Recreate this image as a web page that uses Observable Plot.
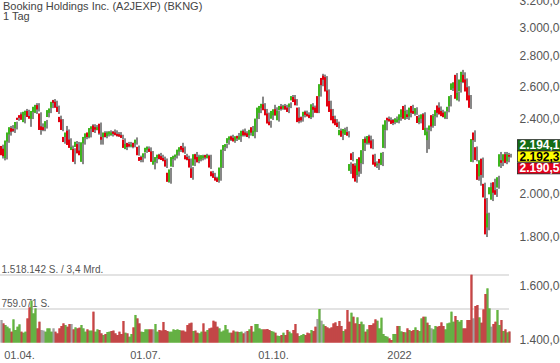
<!DOCTYPE html>
<html><head><meta charset="utf-8">
<script src="https://cdn.jsdelivr.net/npm/d3@7"></script>
<script src="https://cdn.jsdelivr.net/npm/@observablehq/plot@0.6"></script>
<style>
html,body{margin:0;padding:0;background:#fff;overflow:hidden}
#wrap{position:relative;width:560px;height:363px;font-family:"Liberation Sans",Arial,sans-serif}
#wrap svg{position:absolute;left:0;top:0}
#title{position:absolute;left:3px;top:1px;font-size:11px;line-height:10px;color:#444;z-index:5;white-space:nowrap}
</style></head><body>
<div id="wrap"><div id="title">Booking Holdings Inc. (A2JEXP) (BKNG)<br>1 Tag</div></div>
<script>
const opens = [
2245,2230,2185,2275,2315,2345,2340,2350,2405,2420,
2425,2385,2425,2445,2415,2405,2445,2440,2480,2430,
2355,2350,2355,2415,2440,2470,2510,2500,2470,2410,
2395,2295,2300,2330,2280,2228,2228,2245,2255,2220,
2165,2265,2295,2320,2300,2345,2360,2350,2340,2370,
2295,2300,2318,2305,2315,2310,2325,2320,2312,2310,
2305,2280,2235,2262,2255,2248,2262,2265,2240,2185,
2185,2190,2215,2230,2230,2215,2150,2165,2185,2198,
2190,2180,2170,2103,2062,2140,2180,2190,2200,2220,
2245,2235,2195,2185,2175,2125,2145,2200,2185,2170,
2178,2185,2195,2185,2192,2110,2100,2080,2075,2070,
2135,2228,2245,2265,2285,2298,2290,2280,2300,2285,
2305,2328,2320,2315,2310,2350,2305,2330,2405,2440,
2470,2485,2455,2430,2382,2405,2425,2455,2396,2455,
2472,2465,2475,2465,2475,2515,2530,2515,2465,2405,
2408,2420,2440,2428,2422,2415,2470,2465,2535,2540,
2650,2665,2655,2570,2505,2455,2415,2396,2376,2310,
2330,2320,2312,2322,2118,2205,2150,2140,2097,2183,
2158,2228,2285,2265,2298,2275,2198,2157,2147,2175,
2150,2240,2340,2405,2398,2390,2392,2385,2385,2396,
2415,2475,2405,2425,2418,2475,2445,2435,2415,2385,
2405,2425,2310,2283,2340,2420,2365,2420,2478,2465,
2445,2435,2410,2450,2480,2580,2590,2670,2515,2570,
2630,2670,2640,2590,2540,2165,2320,2238,2148,2090,
2175,2047,1974,1845,2000,1974,2055,2015,2033,2140,
2168,2168,2200,2168,2196];
const highs = [
2255,2250,2290,2330,2360,2365,2355,2385,2410,2440,
2435,2450,2460,2455,2425,2450,2485,2495,2495,2440,
2375,2360,2395,2460,2470,2515,2520,2510,2480,2420,
2400,2300,2360,2340,2290,2250,2235,2275,2270,2225,
2270,2300,2320,2330,2355,2370,2370,2365,2355,2380,
2300,2330,2330,2330,2335,2330,2340,2335,2325,2325,
2310,2290,2260,2270,2270,2265,2275,2295,2250,2195,
2195,2210,2245,2245,2240,2220,2170,2195,2205,2210,
2200,2190,2180,2110,2130,2195,2200,2205,2235,2245,
2265,2245,2205,2195,2180,2135,2205,2215,2200,2195,
2200,2200,2205,2200,2200,2115,2105,2085,2080,2135,
2230,2255,2260,2295,2305,2310,2300,2305,2320,2305,
2340,2345,2330,2325,2340,2360,2340,2405,2470,2485,
2535,2495,2460,2438,2390,2450,2485,2470,2450,2490,
2485,2490,2485,2475,2500,2545,2545,2520,2470,2415,
2420,2450,2450,2440,2435,2495,2480,2475,2540,2620,
2680,2675,2665,2580,2510,2460,2420,2400,2385,2345,
2340,2350,2355,2330,2160,2215,2155,2148,2185,2190,
2230,2300,2295,2310,2305,2285,2205,2165,2170,2185,
2215,2370,2400,2415,2410,2400,2405,2415,2410,2440,
2465,2485,2455,2435,2475,2485,2455,2470,2425,2415,
2435,2440,2350,2340,2370,2430,2425,2460,2500,2475,
2455,2445,2450,2480,2545,2625,2640,2685,2565,2650,
2706,2690,2650,2600,2545,2295,2335,2245,2165,2180,
2185,2055,1980,1910,2055,2040,2075,2025,2090,2215,
2180,2215,2215,2210,2205];
const lows = [
2180,2170,2175,2265,2305,2325,2320,2340,2390,2395,
2390,2375,2420,2410,2355,2400,2435,2430,2445,2310,
2330,2330,2345,2410,2435,2465,2490,2460,2430,2375,
2330,2260,2290,2250,2230,2215,2150,2235,2200,2190,
2150,2255,2285,2290,2295,2335,2320,2335,2310,2255,
2255,2295,2290,2300,2305,2300,2310,2300,2300,2295,
2285,2230,2225,2240,2240,2235,2240,2255,2195,2160,
2160,2180,2210,2220,2210,2160,2123,2155,2175,2175,
2165,2160,2130,2055,2050,2135,2170,2180,2195,2215,
2225,2205,2170,2165,2125,2070,2140,2170,2155,2165,
2170,2175,2180,2175,2125,2085,2075,2060,2055,2065,
2130,2220,2235,2255,2275,2275,2265,2275,2285,2270,
2300,2300,2300,2290,2305,2315,2290,2325,2400,2435,
2462,2450,2420,2370,2350,2395,2420,2415,2385,2450,
2455,2455,2450,2435,2465,2505,2500,2480,2375,2380,
2385,2410,2420,2405,2400,2410,2450,2435,2435,2535,
2600,2635,2565,2470,2440,2390,2370,2360,2345,2300,
2280,2310,2305,2295,2100,2165,2070,2055,2085,2100,
2150,2220,2255,2255,2260,2230,2140,2130,2120,2145,
2140,2235,2335,2385,2380,2365,2370,2378,2375,2390,
2405,2395,2400,2395,2410,2430,2420,2425,2370,2375,
2395,2330,2210,2230,2330,2350,2360,2410,2435,2420,
2410,2400,2400,2440,2475,2570,2580,2515,2505,2560,
2620,2620,2565,2505,2460,2160,2270,2165,2065,2040,
2080,1975,1800,1830,1995,1965,2000,1985,2025,2130,
2140,2155,2150,2160,2185];
const closes = [
2200,2195,2275,2320,2350,2330,2335,2380,2398,2410,
2400,2440,2445,2415,2405,2445,2470,2480,2460,2340,
2340,2340,2385,2450,2460,2500,2500,2470,2445,2385,
2340,2272,2320,2256,2240,2240,2165,2268,2210,2200,
2265,2295,2315,2300,2345,2355,2328,2342,2350,2320,
2285,2320,2300,2320,2325,2320,2318,2310,2305,2302,
2295,2240,2255,2245,2248,2252,2245,2280,2200,2170,
2175,2205,2235,2240,2218,2165,2165,2185,2198,2180,
2175,2170,2140,2062,2120,2185,2190,2198,2225,2238,
2230,2215,2178,2175,2135,2082,2200,2178,2162,2188,
2195,2192,2188,2195,2135,2090,2082,2068,2062,2130,
2225,2250,2255,2288,2298,2285,2275,2298,2292,2298,
2330,2310,2310,2300,2335,2325,2330,2400,2465,2475,
2488,2455,2425,2377,2367,2445,2455,2425,2445,2475,
2462,2475,2460,2445,2490,2535,2505,2485,2385,2390,
2395,2440,2428,2418,2410,2485,2458,2440,2440,2610,
2610,2645,2570,2478,2445,2396,2378,2367,2357,2335,
2302,2340,2335,2308,2148,2175,2080,2063,2175,2115,
2222,2283,2268,2300,2268,2237,2150,2140,2150,2158,
2208,2365,2390,2396,2390,2375,2380,2400,2395,2425,
2455,2405,2445,2415,2465,2440,2435,2462,2380,2405,
2425,2340,2345,2325,2360,2360,2415,2450,2440,2430,
2420,2415,2440,2470,2535,2615,2620,2525,2555,2640,
2690,2630,2570,2515,2470,2283,2283,2175,2072,2168,
2097,1985,1814,1904,2030,2030,2008,1998,2080,2200,
2160,2200,2160,2200,2192.36];
const volumes = [
505000,431000,394000,357000,320000,246000,520000,283000,357000,409000,
246000,223000,246000,542000,787000,936000,654000,765000,320000,468000,
283000,271000,246000,320000,320000,246000,320000,246000,209000,320000,
372000,431000,394000,357000,416000,416000,298000,342000,320000,335000,
394000,320000,246000,298000,271000,271000,691000,246000,298000,283000,
209000,171000,194000,238000,246000,260000,271000,209000,171000,246000,
194000,483000,223000,209000,134000,194000,342000,617000,542000,431000,
246000,238000,298000,298000,298000,298000,298000,416000,246000,283000,
271000,461000,283000,260000,246000,246000,298000,283000,298000,283000,
271000,271000,246000,394000,431000,446000,260000,271000,223000,209000,
246000,431000,246000,283000,320000,335000,490000,468000,357000,320000,
246000,271000,394000,298000,223000,223000,271000,246000,246000,238000,
246000,209000,246000,260000,298000,372000,246000,416000,416000,320000,
298000,298000,298000,305000,283000,260000,246000,223000,157000,149000,
171000,223000,171000,283000,246000,209000,283000,416000,209000,149000,
171000,194000,171000,223000,209000,283000,260000,357000,528000,750000,
490000,409000,372000,342000,320000,342000,431000,453000,372000,483000,
372000,260000,298000,728000,468000,668000,579000,431000,565000,416000,
468000,409000,246000,298000,394000,394000,431000,520000,490000,320000,
557000,194000,149000,134000,97000,60000,194000,194000,372000,372000,
253000,238000,231000,320000,283000,260000,283000,342000,283000,260000,
542000,579000,579000,446000,394000,320000,298000,372000,357000,372000,
453000,372000,298000,431000,446000,691000,468000,594000,505000,468000,
505000,320000,320000,505000,505000,1514000,542000,817000,839000,565000,
446000,743000,1084000,1210000,765000,357000,416000,468000,728000,394000,
505000,260000,298000,230000,250000];
const priceTicks = [1400,1600,1800,2000,2200,2400,2600,2800,3000,3200];
const dateTickIndex = [9,72,136,199];
const dateTickLabels = ["01.04.","01.07.","01.10.","2022"];
const volumeGrid = [759071,1518142];
const volumeGridLabels = ["759.071 S.","1.518.142 S. / 3,4 Mrd."];
const quoteValues = [2194.17,2192.36,2190.55];

const de = d3.formatLocale({decimal: ",", thousands: ".", grouping: [3], currency: ["", ""]});
const fmtPrice = de.format(",.2f");

const candles = closes.map((c, i) => ({
  i, open: opens[i], high: highs[i], low: lows[i], close: c, volume: volumes[i],
  dir: i === 0 ? 0 : Math.sign(c - closes[i - 1])
}));
const N = candles.length;
const UP = "#3db51e", DOWN = "#e2000f";
const font = "'Liberation Sans', Arial, sans-serif";

const pricePlot = Plot.plot({
  width: 560, height: 363,
  marginTop: 0, marginRight: 51, marginBottom: 20, marginLeft: 0,
  style: {background: "transparent", fontFamily: font, color: "#555", overflow: "visible"},
  x: {type: "linear", domain: [0, N - 1], range: [1, 509], label: null},
  y: {type: "log", domain: [1400, 3200], range: [340.1, 1.1], label: null},
  marks: [
    Plot.axisY(priceTicks, {anchor: "right", label: null, tickSize: 0, tickPadding: 10, tickFormat: fmtPrice, fontSize: 12, fill: "#555"}),
    Plot.axisX(dateTickIndex, {anchor: "bottom", label: null, tickSize: 0, tickPadding: 8,
      tickFormat: d => dateTickLabels[dateTickIndex.indexOf(d)], fontSize: 11, fill: "#555"}),
    Plot.ruleX(candles, {x: "i", y1: "low", y2: "high", stroke: "#111", strokeWidth: 1, dx: 1.5}),
    Plot.rect(candles, {
      x1: d => d.i - 0.5, x2: d => d.i + 0.5, y1: "open", y2: "close",
      fill: d => d.close >= d.open ? UP : DOWN, stroke: d => d.close >= d.open ? UP : DOWN,
      strokeWidth: 1, insetLeft: 0.5, insetRight: 0.5
    }),
    Plot.text([quoteValues[0]], {y: d => d, text: d => fmtPrice(d), frameAnchor: "right", textAnchor: "start", dx: 10, dy: -11, fill: "#fff", fontWeight: "bold", fontSize: 12, className: "q-bid"}),
    Plot.text([quoteValues[1]], {y: d => d, text: d => fmtPrice(d), frameAnchor: "right", textAnchor: "start", dx: 10, dy: 0, fill: "#000", fontWeight: "bold", fontSize: 12, className: "q-last"}),
    Plot.text([quoteValues[2]], {y: d => d, text: d => fmtPrice(d), frameAnchor: "right", textAnchor: "start", dx: 10, dy: 11.5, fill: "#fff", fontWeight: "bold", fontSize: 12, className: "q-ask"})
  ]
});

const volColor = d => d.dir > 0 ? "#8fd46c" : d.dir < 0 ? "#e47474" : "#c4c4c4";
const volEdge = d => d.dir > 0 ? "#3b8c1c" : d.dir < 0 ? "#a11a1a" : "#808080";

const volumePlot = Plot.plot({
  width: 560, height: 363,
  marginTop: 0, marginRight: 51, marginBottom: 20, marginLeft: 0,
  style: {background: "transparent", fontFamily: font, color: "#555", overflow: "visible"},
  x: {type: "linear", domain: [0, N - 1], range: [1, 509], axis: null, label: null},
  y: {type: "linear", domain: [0, 1518142], range: [342.7, 274.5], axis: null, label: null},
  marks: [
    Plot.ruleY(volumeGrid, {stroke: "#dadada", strokeWidth: 1.5}),
    Plot.text(volumeGrid, {y: d => d, text: (d, i) => volumeGridLabels[i], frameAnchor: "left", textAnchor: "start", dx: 1, dy: -5.5, fontSize: 10, fill: "#555"}),
    Plot.rect(candles, {x1: d => d.i - 0.5, x2: d => d.i + 0.5, y1: 0, y2: "volume", fill: volColor}),
    Plot.ruleX(candles, {x: "i", y1: 0, y2: "volume", stroke: volEdge, strokeWidth: 1, dx: 0.5})
  ]
});

const wrap = document.getElementById("wrap");
wrap.appendChild(pricePlot);
wrap.appendChild(volumePlot);

// background boxes for the quote labels
const svgRect = pricePlot.getBoundingClientRect();
[["q-bid", "#146c14"], ["q-last", "#ffff00"], ["q-ask", "#e2001a"]].forEach(([cls, fill]) => {
  const g = pricePlot.querySelector("g." + cls);
  if (!g) return;
  const t = g.querySelector("text");
  const r = t.getBoundingClientRect();
  const cy = (r.top + r.bottom) / 2 - svgRect.top;
  d3.select(pricePlot).insert("rect", "g." + cls)
    .attr("x", r.left - svgRect.left - 2).attr("y", cy - 5.5)
    .attr("width", 60).attr("height", 11)
    .attr("fill", fill).attr("stroke", "#222").attr("stroke-width", 0.8);
});
</script>
</body></html>
